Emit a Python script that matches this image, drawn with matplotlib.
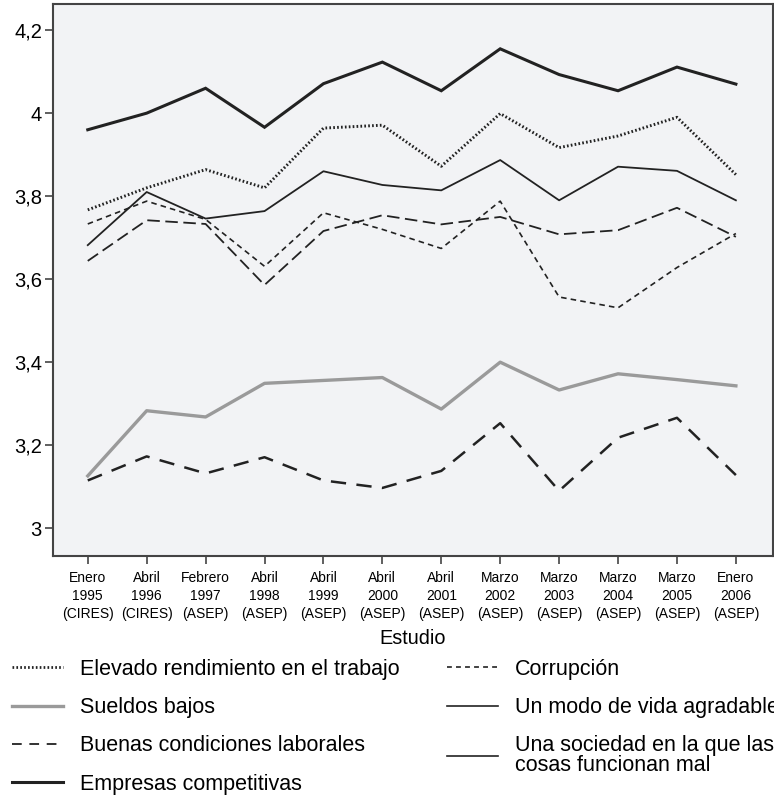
import matplotlib
matplotlib.use('Agg')
import matplotlib.pyplot as plt
from matplotlib.lines import Line2D
from matplotlib import font_manager

# datos
estudios = ['Enero\n1995\n(CIRES)', 'Abril\n1996\n(CIRES)', 'Febrero\n1997\n(ASEP)',
            'Abril\n1998\n(ASEP)', 'Abril\n1999\n(ASEP)', 'Abril\n2000\n(ASEP)',
            'Abril\n2001\n(ASEP)', 'Marzo\n2002\n(ASEP)', 'Marzo\n2003\n(ASEP)',
            'Marzo\n2004\n(ASEP)', 'Marzo\n2005\n(ASEP)', 'Enero\n2006\n(ASEP)']
elevado = [3.767, 3.82, 3.864, 3.82, 3.964, 3.971, 3.872, 3.999, 3.917, 3.945, 3.99, 3.852]
sueldos = [3.126, 3.283, 3.268, 3.349, 3.356, 3.363, 3.287, 3.40, 3.333, 3.372, 3.358, 3.343]
buenas = [3.115, 3.173, 3.132, 3.171, 3.115, 3.097, 3.138, 3.253, 3.09, 3.218, 3.266, 3.128]
empresas = [3.96, 4.0, 4.06, 3.966, 4.071, 4.123, 4.054, 4.155, 4.093, 4.054, 4.111, 4.07]
corrupcion = [3.733, 3.788, 3.744, 3.631, 3.76, 3.72, 3.674, 3.788, 3.557, 3.531, 3.628, 3.71]
modo_vida = [3.682, 3.81, 3.746, 3.764, 3.86, 3.827, 3.814, 3.887, 3.79, 3.871, 3.861, 3.79]
sociedad = [3.644, 3.742, 3.733, 3.586, 3.716, 3.754, 3.732, 3.75, 3.708, 3.718, 3.772, 3.702]

yticks = [3.0, 3.2, 3.4, 3.6, 3.8, 4.0, 4.2]
ytick_labels = ['3', '3,2', '3,4', '3,6', '3,8', '4', '4,2']

nombres = [f.name for f in font_manager.fontManager.ttflist]
fuente = 'Liberation Sans'
fuente_narrow = 'Liberation Sans Narrow' if 'Liberation Sans Narrow' in nombres else fuente
plt.rcParams['font.family'] = [fuente, 'DejaVu Sans']
plt.rcParams['lines.scale_dashes'] = False

oscuro = '#222222'
gris = '#9a9a9a'

fig = plt.figure(figsize=(7.74, 7.97), dpi=100)
ax = fig.add_axes([53 / 774, 1 - 556 / 797, 720 / 774, 552 / 797])
ax.set_facecolor('#f2f3f5')

x = list(range(len(estudios)))
ax.plot(x, empresas, color=oscuro, lw=2.2, solid_joinstyle='miter')
ax.plot(x, elevado, color=oscuro, lw=2.1, dashes=(1.2, 1.6))
ax.plot(x, modo_vida, color=oscuro, lw=1.3)
ax.plot(x, corrupcion, color=oscuro, lw=1.2, dashes=(4, 3))
ax.plot(x, sociedad, color=oscuro, lw=1.3, dashes=(9, 4))
ax.plot(x, sueldos, color=gris, lw=2.4)
ax.plot(x, buenas, color=oscuro, lw=1.8, dashes=(11, 7.5))

ax.set_xlim(-0.59, 11.63)
ax.set_ylim(2.933, 4.263)
ax.set_yticks(yticks)
ax.set_yticklabels(ytick_labels, fontsize=14.5)
ax.set_xticks(x)
ax.set_xticklabels(estudios, fontsize=10, family=[fuente_narrow, 'DejaVu Sans'], linespacing=1.35)
ax.tick_params(axis='both', direction='out', length=6, width=1.2, color='#444444')
ax.tick_params(axis='y', pad=2)
ax.tick_params(axis='x', pad=5)
for s in ax.spines.values():
    s.set_color('#444444')
    s.set_linewidth(1.5)
ax.set_xlabel('Estudio', fontsize=14.3, labelpad=6)

# leyenda en dos columnas
h1 = [Line2D([], [], color=oscuro, lw=2.0, dashes=(1.2, 1.6)),
      Line2D([], [], color=gris, lw=2.4),
      Line2D([], [], color=oscuro, lw=1.3, dashes=(7, 5.5)),
      Line2D([], [], color=oscuro, lw=2.2)]
l1 = ['Elevado rendimiento en el trabajo', 'Sueldos bajos',
      'Buenas condiciones laborales', 'Empresas competitivas']
h2 = [Line2D([], [], color=oscuro, lw=1.2, dashes=(3.5, 3)),
      Line2D([], [], color=oscuro, lw=1.2),
      Line2D([], [], color=oscuro, lw=1.2)]
l2 = ['Corrupción', 'Un modo de vida agradable',
      'Una sociedad en la que las\ncosas funcionan mal']

for h, l, xpos in [(h1, l1, 12), (h2, l2, 447)]:
    leg = fig.legend(h, l, loc='upper left', bbox_to_anchor=(xpos / 774, 1 - 659 / 797),
                     frameon=False, fontsize=15.5, handlelength=2.35, handletextpad=0.8,
                     labelspacing=0.8, borderpad=0, borderaxespad=0)
    for t in leg.get_texts():
        t.set_linespacing(0.92)

plt.savefig('out.png', dpi=100)
